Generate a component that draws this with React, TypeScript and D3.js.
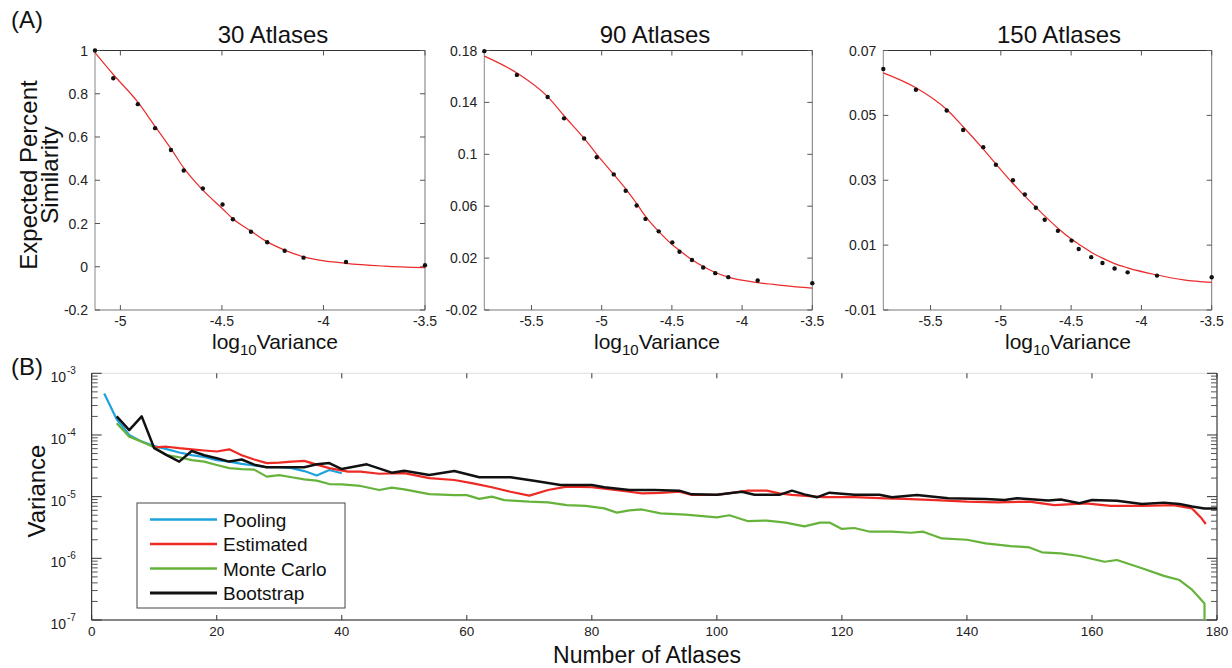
import React from 'react';
import * as d3 from 'd3';

// ---------- Panel A data ----------
const logVariance = [-5.836, -5.604, -5.385, -5.268, -5.125, -5.035, -4.914, -4.829, -4.751, -4.688, -4.594, -4.497, -4.446, -4.357, -4.277, -4.191, -4.098, -3.889, -3.5];
const fitLogVariance = [-5.836, -5.604, -5.385, -5.268, -5.125, -5.035, -4.914, -4.829, -4.751, -4.688, -4.594, -4.497, -4.446, -4.357, -4.277, -4.191, -4.098, -3.889, -3.7, -3.5];

const sim30 = [1.0, 0.872, 0.752, 0.641, 0.540, 0.445, 0.362, 0.288, 0.220, 0.162, 0.113, 0.074, 0.042, 0.022, 0.007];
const fit30 = [0.99, 0.889, 0.761, 0.649, 0.546, 0.457, 0.354, 0.268, 0.222, 0.165, 0.115, 0.077, 0.046, 0.016, 0.003, -0.004];

const sim90 = [0.1795, 0.1612, 0.1442, 0.1277, 0.1122, 0.0977, 0.0845, 0.0719, 0.0605, 0.0502, 0.0406, 0.0321, 0.0249, 0.0185, 0.0127, 0.0084, 0.0053, 0.0027, 0.0007];
const fit90 = [0.1757, 0.1627, 0.1444, 0.1297, 0.1122, 0.1, 0.0845, 0.0734, 0.0621, 0.0522, 0.0406, 0.0303, 0.0259, 0.0187, 0.0135, 0.0089, 0.0053, 0.0011, -0.0012, -0.0032];

const sim150 = [0.0643, 0.0579, 0.0515, 0.0455, 0.0402, 0.0348, 0.0300, 0.0256, 0.0215, 0.0178, 0.0144, 0.0114, 0.0088, 0.0063, 0.0045, 0.0028, 0.0016, 0.0006, 0.0001];
const fit150 = [0.0631, 0.0585, 0.0518, 0.0465, 0.0396, 0.0350, 0.0290, 0.0251, 0.0217, 0.0190, 0.0152, 0.0118, 0.0103, 0.0078, 0.0060, 0.0043, 0.0030, 0.0008, -0.0007, -0.0015];

const titles = ['30 Atlases', '90 Atlases', '150 Atlases'];
const yTicks30 = [-0.2, 0, 0.2, 0.4, 0.6, 0.8, 1];
const yTicks90 = [-0.02, 0.02, 0.06, 0.1, 0.14, 0.18];
const yTicks150 = [-0.01, 0.01, 0.03, 0.05, 0.07];
const xTicks30 = [-5, -4.5, -4, -3.5];
const xTicksWide = [-5.5, -5, -4.5, -4, -3.5];

// ---------- Panel B data ----------
const poolingN = [2, 4, 6, 8, 10, 12, 14, 16, 18, 20, 22, 24, 26, 28, 30, 32, 34, 36, 38, 40];
const poolingV = [4.7e-4, 1.8e-4, 1.0e-4, 7.8e-5, 6.6e-5, 5.9e-5, 5.2e-5, 4.7e-5, 4.4e-5, 3.9e-5, 3.7e-5, 3.4e-5, 3.2e-5, 3.0e-5, 3.0e-5, 2.9e-5, 2.6e-5, 2.2e-5, 2.7e-5, 2.4e-5];

const estimatedN = [10, 12, 14, 16, 18, 20, 22, 24, 26, 28, 30, 32, 34, 36, 38, 41, 43, 46, 50, 54, 58, 61, 64, 67, 70, 73, 76, 80, 83, 86, 88, 91, 94, 96, 100, 105, 108, 110, 112, 117, 122, 127, 130, 135, 140, 145, 150, 154, 159, 163, 168, 173, 176, 177.5, 178.2];
const estimatedV = [6.3e-5, 6.45e-5, 6.1e-5, 5.85e-5, 5.6e-5, 5.4e-5, 5.85e-5, 4.7e-5, 4.0e-5, 3.5e-5, 3.55e-5, 3.7e-5, 3.8e-5, 3.3e-5, 2.9e-5, 2.55e-5, 2.55e-5, 2.35e-5, 2.4e-5, 2.0e-5, 1.86e-5, 1.64e-5, 1.42e-5, 1.2e-5, 1.04e-5, 1.28e-5, 1.45e-5, 1.42e-5, 1.31e-5, 1.2e-5, 1.13e-5, 1.15e-5, 1.2e-5, 1.07e-5, 1.07e-5, 1.25e-5, 1.25e-5, 1.13e-5, 1.07e-5, 9.8e-6, 9.8e-6, 9.4e-6, 9.2e-6, 8.8e-6, 8.3e-6, 8.1e-6, 8.3e-6, 7.3e-6, 7.8e-6, 7.1e-6, 7.1e-6, 7.3e-6, 6.45e-6, 4.5e-6, 3.6e-6];

const monteCarloN = [4, 6, 8, 10, 12, 14, 16, 18, 20, 22, 24, 26, 28, 30, 32, 34, 36, 38, 40, 43, 46, 48, 50, 54, 58, 60, 62, 64, 66, 70, 73, 76, 79, 82, 84, 86, 88, 91, 95, 100, 102, 105, 108, 111, 114, 116.5, 118, 120, 122, 124.5, 128, 131, 133, 136, 140, 143, 147, 150, 152, 155, 158, 162, 164, 168, 171.5, 174, 176, 177, 178, 178];
const monteCarloV = [1.55e-4, 9.4e-5, 7.8e-5, 6.3e-5, 4.7e-5, 4.35e-5, 3.9e-5, 3.7e-5, 3.26e-5, 2.9e-5, 2.8e-5, 2.74e-5, 2.11e-5, 2.24e-5, 2.06e-5, 1.91e-5, 1.82e-5, 1.6e-5, 1.58e-5, 1.49e-5, 1.28e-5, 1.4e-5, 1.31e-5, 1.1e-5, 1.06e-5, 1.06e-5, 9.2e-6, 1.0e-5, 8.8e-6, 8.3e-6, 8.1e-6, 7.3e-6, 7.1e-6, 6.45e-6, 5.5e-6, 6.0e-6, 6.2e-6, 5.37e-6, 5.1e-6, 4.6e-6, 5.0e-6, 4.0e-6, 4.1e-6, 3.8e-6, 3.3e-6, 3.8e-6, 3.8e-6, 3.0e-6, 3.1e-6, 2.7e-6, 2.7e-6, 2.6e-6, 2.7e-6, 2.1e-6, 2.0e-6, 1.75e-6, 1.58e-6, 1.5e-6, 1.25e-6, 1.2e-6, 1.09e-6, 8.8e-7, 9.4e-7, 6.9e-7, 5.2e-7, 4.45e-7, 3.1e-7, 2.4e-7, 1.85e-7, 1.0e-7];

const bootstrapN = [4, 6, 8, 10, 12, 14, 16, 18, 20, 22, 24, 26, 28, 31, 34, 36, 38, 40, 44, 48, 50, 54, 58, 62, 67, 71, 75, 80, 82, 86, 90, 94, 96, 100, 104, 106, 110, 112, 114, 116, 118, 122, 126, 128, 132, 137, 143, 146, 148, 153, 155, 158, 160, 164, 168, 171.5, 174, 176, 178, 180];
const bootstrapV = [2.0e-4, 1.2e-4, 2.0e-4, 6.1e-5, 4.7e-5, 3.7e-5, 5.5e-5, 4.7e-5, 4.2e-5, 3.7e-5, 4.0e-5, 3.3e-5, 3.0e-5, 3.0e-5, 3.0e-5, 3.35e-5, 3.5e-5, 2.8e-5, 3.34e-5, 2.45e-5, 2.64e-5, 2.24e-5, 2.6e-5, 2.06e-5, 2.06e-5, 1.79e-5, 1.54e-5, 1.54e-5, 1.42e-5, 1.28e-5, 1.28e-5, 1.25e-5, 1.09e-5, 1.07e-5, 1.2e-5, 1.07e-5, 1.07e-5, 1.25e-5, 1.09e-5, 9.75e-6, 1.16e-5, 1.07e-5, 1.07e-5, 9.75e-6, 1.06e-5, 9.4e-6, 9.2e-6, 8.8e-6, 9.4e-6, 8.7e-6, 9.0e-6, 7.8e-6, 8.8e-6, 8.6e-6, 7.6e-6, 8.0e-6, 7.6e-6, 6.9e-6, 6.45e-6, 6.45e-6];

const seriesNames = ['Pooling', 'Estimated', 'Monte Carlo', 'Bootstrap'];
const seriesColors = ['#1ea2de', '#ee2a24', '#66b33c', '#111111'];
const xTicksB = [0, 20, 40, 60, 80, 100, 120, 140, 160, 180];
const yExpB = [-3, -4, -5, -6, -7];

const FONT = '"Liberation Sans", Arial, Helvetica, sans-serif';

type PanelProps = {
  title: string; left: number; right: number; xDomain: [number, number]; yDomain: [number, number];
  yTicks: number[]; xTicks: number[]; px: number[]; py: number[]; fx: number[]; fy: number[];
  titleX: number; labelX: number;
};

const TOP = 50.5, BOT = 310;

function PanelA(p: PanelProps) {
  const x = d3.scaleLinear().domain(p.xDomain).range([p.left, p.right]);
  const y = d3.scaleLinear().domain(p.yDomain).range([BOT, TOP]);
  const fitPts = p.fx.map((v, i) => [v, p.fy[i]] as [number, number]);
  const line = d3.line<[number, number]>().x(d => x(d[0])).y(d => y(d[1])).curve(d3.curveMonotoneX);
  const tl = 5;
  return (
    <g>
      <text x={p.titleX} y={43} textAnchor="middle" fontSize={24} fontFamily={FONT} fill="#111">{p.title}</text>
      <line x1={p.left} x2={p.right} y1={TOP} y2={TOP} stroke="#333" strokeWidth={1} />
      <line x1={p.left} x2={p.right} y1={BOT} y2={BOT} stroke="#777" strokeWidth={1} />
      <line x1={p.left} x2={p.left} y1={TOP} y2={BOT} stroke="#888" strokeWidth={1} />
      <line x1={p.right} x2={p.right} y1={TOP} y2={BOT} stroke="#777" strokeWidth={1} />
      {p.yTicks.map(t => (
        <g key={'y' + t}>
          <line x1={p.left} x2={p.left + tl} y1={y(t)} y2={y(t)} stroke="#555" />
          <line x1={p.right} x2={p.right - tl} y1={y(t)} y2={y(t)} stroke="#555" />
          <text x={p.left - 7} y={y(t) + 5} textAnchor="end" fontSize={14} fontFamily={FONT} fill="#222">{String(t)}</text>
        </g>
      ))}
      {p.xTicks.map(t => (
        <g key={'x' + t}>
          <line x1={x(t)} x2={x(t)} y1={BOT} y2={BOT - tl} stroke="#555" />
          <line x1={x(t)} x2={x(t)} y1={TOP} y2={TOP + tl} stroke="#555" />
          <text x={x(t)} y={BOT + 16} textAnchor="middle" fontSize={14} fontFamily={FONT} fill="#222">{String(t)}</text>
        </g>
      ))}
      <path d={line(fitPts) || ''} fill="none" stroke="#ea2b2b" strokeWidth={1.2} />
      {p.px.map((v, i) => (
        <circle key={i} cx={x(v)} cy={y(p.py[i])} r={2.2} fill="#111" />
      ))}
      <text x={p.labelX} y={349} textAnchor="middle" fontSize={21} fontFamily={FONT} fill="#111">
        <tspan>log</tspan>
        <tspan fontSize={15} dy={6}>10</tspan>
        <tspan dy={-6}>Variance</tspan>
      </text>
    </g>
  );
}

function PanelB() {
  const L = 91.7, R = 1217, T = 373.3, B = 620;
  const x = d3.scaleLinear().domain([0, 180]).range([L, R]);
  const y = d3.scaleLog().domain([1e-7, 1e-3]).range([B, T]);
  const line = d3.line<[number, number]>().x(d => x(d[0])).y(d => y(d[1]));
  const series = [
    poolingN.map((n, i) => [n, poolingV[i]] as [number, number]),
    estimatedN.map((n, i) => [n, estimatedV[i]] as [number, number]),
    monteCarloN.map((n, i) => [n, monteCarloV[i]] as [number, number]),
    bootstrapN.map((n, i) => [n, bootstrapV[i]] as [number, number]),
  ];
  const minors: number[] = [];
  for (let e = -7; e < -3; e++) for (let k = 2; k <= 9; k++) minors.push(k * Math.pow(10, e));
  const legX = 137, legY = 503;
  return (
    <g>
      <line x1={L} x2={R} y1={T} y2={T} stroke="#ddd" />
      <line x1={L} x2={R} y1={B} y2={B} stroke="#111" />
      <line x1={L} x2={L} y1={T} y2={B} stroke="#111" />
      <line x1={R} x2={R} y1={T} y2={B} stroke="#111" />
      {xTicksB.map(t => (
        <g key={'bx' + t}>
          <line x1={x(t)} x2={x(t)} y1={B} y2={B - 5} stroke="#333" />
          <line x1={x(t)} x2={x(t)} y1={T} y2={T + 5} stroke="#333" />
          <text x={x(t)} y={B + 16} textAnchor="middle" fontSize={13.5} fontFamily={FONT} fill="#222">{String(t)}</text>
        </g>
      ))}
      {yExpB.map(e => {
        const yy = y(Math.pow(10, e));
        return (
          <g key={'by' + e}>
            <line x1={L} x2={L + 10} y1={yy} y2={yy} stroke="#333" />
            <line x1={R} x2={R - 10} y1={yy} y2={yy} stroke="#333" />
            <text x={66} y={yy + 9} textAnchor="end" fontSize={14} fontFamily={FONT} fill="#222">10</text>
            <text x={67} y={yy + 1} textAnchor="start" fontSize={10} fontFamily={FONT} fill="#222">{String(e)}</text>
          </g>
        );
      })}
      {minors.map((m, i) => (
        <g key={'m' + i}>
          <line x1={L} x2={L + 6} y1={y(m)} y2={y(m)} stroke="#555" />
          <line x1={R} x2={R - 6} y1={y(m)} y2={y(m)} stroke="#555" />
        </g>
      ))}
      {series.map((s, i) => (
        <path key={'s' + i} d={line(s) || ''} fill="none" stroke={seriesColors[i]} strokeWidth={i === 3 ? 2.5 : 2.2} strokeLinejoin="round" />
      ))}
      <rect x={legX} y={legY} width={208} height={105} fill="#fff" stroke="#444" strokeWidth={1} />
      {seriesNames.map((n, i) => (
        <g key={'l' + n}>
          <line x1={150} x2={217} y1={legY + 16.5 + i * 24.5} y2={legY + 16.5 + i * 24.5} stroke={seriesColors[i]} strokeWidth={i === 3 ? 3 : 2.5} />
          <text x={223} y={legY + 23.5 + i * 24.5} fontSize={19} fontFamily={FONT} fill="#111">{n}</text>
        </g>
      ))}
      <text transform={`translate(45,491) rotate(-90)`} textAnchor="middle" fontSize={24} fontFamily={FONT} fill="#111">Variance</text>
      <text x={647} y={663} textAnchor="middle" fontSize={23} fontFamily={FONT} fill="#111">Number of Atlases</text>
      <text x={11} y={375} fontSize={24} fontFamily={FONT} fill="#111">(B)</text>
    </g>
  );
}

export default function App() {
  return (
    <svg width={1232} height={668} viewBox="0 0 1232 668" style={{ position: 'absolute', left: 0, top: 0, background: '#fff' }}>
      <rect x={0} y={0} width={1232} height={668} fill="#fff" />
      <text x={11} y={28} fontSize={24} fontFamily={FONT} fill="#111">(A)</text>
      <text transform="translate(37,175) rotate(-90)" textAnchor="middle" fontSize={24} fontFamily={FONT} fill="#111">Expected Percent</text>
      <text transform="translate(58,175) rotate(-90)" textAnchor="middle" fontSize={24} fontFamily={FONT} fill="#111">Similarity</text>
      <PanelA title={titles[0]} left={95} right={425} xDomain={[-5.125, -3.5]} yDomain={[-0.2, 1]}
        yTicks={yTicks30} xTicks={xTicks30} px={logVariance.slice(4)} py={sim30}
        fx={fitLogVariance.slice(4)} fy={fit30} titleX={273} labelX={275} />
      <PanelA title={titles[1]} left={484.3} right={812.3} xDomain={[-5.836, -3.5]} yDomain={[-0.02, 0.18]}
        yTicks={yTicks90} xTicks={xTicksWide} px={logVariance} py={sim90}
        fx={fitLogVariance} fy={fit90} titleX={655} labelX={657} />
      <PanelA title={titles[2]} left={883.3} right={1211.7} xDomain={[-5.836, -3.5]} yDomain={[-0.01, 0.07]}
        yTicks={yTicks150} xTicks={xTicksWide} px={logVariance} py={sim150}
        fx={fitLogVariance} fy={fit150} titleX={1059} labelX={1068} />
      <PanelB />
    </svg>
  );
}
